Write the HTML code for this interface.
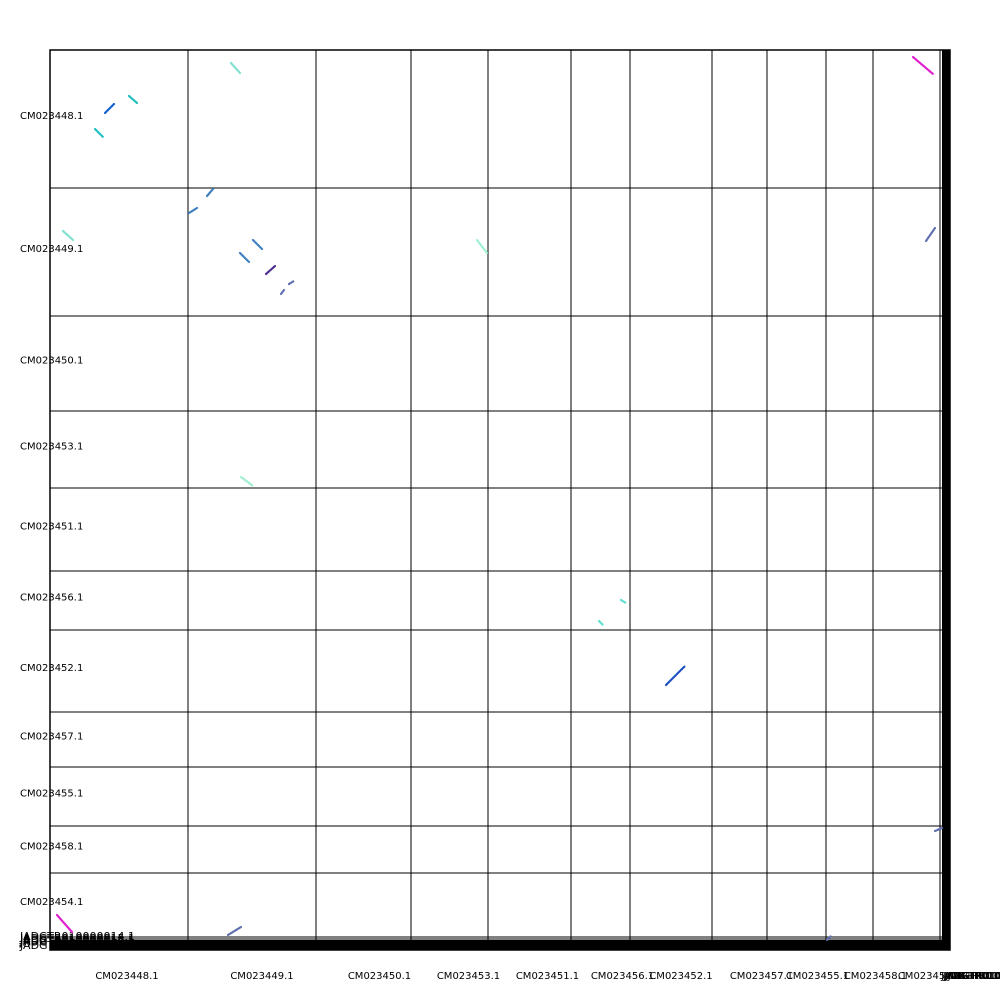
<!DOCTYPE html>
<html><head><meta charset="utf-8"><style>body{margin:0;background:#fff}svg{display:block;font-family:"DejaVu Sans","Liberation Sans",sans-serif}</style></head>
<body>
<svg id="c" width="1000" height="1000">
<rect x="944" y="50" width="6" height="900" fill="#000"/>
<rect x="50" y="941" width="900" height="9" fill="#000"/>
</svg>
<script>
const xNames=["CM023448.1","CM023449.1","CM023450.1","CM023453.1","CM023451.1","CM023456.1","CM023452.1","CM023457.1","CM023455.1","CM023458.1","CM023454.1","JADGTR010000014.1","JADGTR010000015.1","JADGTR010000016.1","JADGTR010000017.1","JADGTR010000018.1"];
const xLens=[138,128,95,77,83,59,82,55,59,47,67,3,1,1,1,4];
const yNames=["CM023448.1","CM023449.1","CM023450.1","CM023453.1","CM023451.1","CM023456.1","CM023452.1","CM023457.1","CM023455.1","CM023458.1","CM023454.1","JADGTR010000014.1","JADGTR010000015.1","JADGTR010000016.1","JADGTR010000017.1","JADGTR010000018.1","JADGTR010000019.1"];
const yLens=[138,128,95,77,83,59,82,55,59,47,64,2,2,1,1,1,6];
// alignments in cumulative genome units
const segX1=[55,45,79,181,863,139,157,13,203,190,216,231,239,427,876,191,571,549,616,885,7,178,777];
const segY1=[63,79,46,13,7,163,146,181,190,203,224,244,234,190,191,427,550,571,635,781,865,885,890];
const segX2=[64,53,87,190,883,147,163,23,212,199,225,234,244,437,885,203,576,553,635,892,22,191,781];
const segY2=[54,87,53,23,24,158,139,190,199,212,216,240,231,203,178,436,553,575,616,778,882,877,886];
const segCol=["#1060d0","#20c0c0","#20c0c0","#80e0d0","#e020d0","#4080c0","#4080c0","#80e0d0","#4080c0","#4080c0","#503090","#6070b0","#6070b0","#a0f0d0","#6070b0","#a0f0d0","#60e0d0","#60e0d0","#2050c0","#6070b0","#e020d0","#6070b0","#6070b0"];
const ns="http://www.w3.org/2000/svg",svg=document.getElementById('c');
const X0=50,Y0=50,W=900,H=900;
const xLabShift=[8,10,16,19,18,22,10,22,21,26,23,52,52,52,52,52];
const sx=v=>X0+v*W/xLens.reduce((a,b)=>a+b,0);
const sy=v=>Y0+v*H/yLens.reduce((a,b)=>a+b,0);
function mk(t,a){const e=document.createElementNS(ns,t);for(const k in a)e.setAttribute(k,a[k]);svg.appendChild(e);return e;}
let cum=0;
xLens.forEach((l,i)=>{const a=sx(cum),b=sx(cum+l);
 const ln=mk('line',{x1:a,y1:Y0,x2:a,y2:Y0+H,stroke:'#000','stroke-width':i>11?2:1});
 
 
 const t=mk('text',{x:(a+b)/2+xLabShift[i],y:979,'font-size':10,'text-anchor':'middle'});t.textContent=xNames[i];
 
 
 cum+=l;});
cum=0;
yLens.forEach((l,i)=>{const a=sy(cum),b=sy(cum+l);
 const ln=mk('line',{x1:X0,y1:a,x2:X0+W,y2:a,stroke:'#000','stroke-width':i>12?2:1});
 
 
 const t=mk('text',{x:20,y:(a+b)/2+(i>10?2:0),'font-size':i>10?11:10});t.textContent=yNames[i];
 
 
 cum+=l;});
const fr=mk('rect',{x:X0,y:Y0,width:W,height:H,fill:'none',stroke:'#000','stroke-width':1.5});


segX1.forEach((v,i)=>{
 const s=mk('line',{x1:sx(v),y1:sy(segY1[i]),x2:sx(segX2[i]),y2:sy(segY2[i]),stroke:segCol[i],'stroke-width':2.2,'stroke-dasharray':'2 1','stroke-linecap':'round'});
 
 
});
</script>
</body></html>
